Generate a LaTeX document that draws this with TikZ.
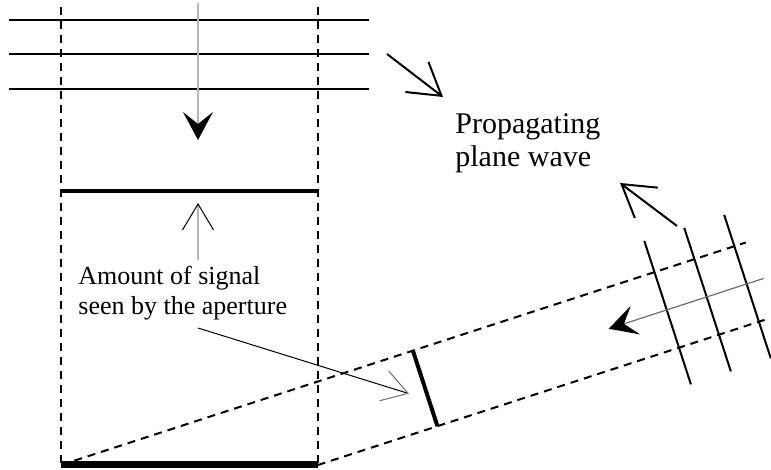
\documentclass[tikz,border=0pt]{standalone}
\usepackage{fontspec}
\setmainfont{Liberation Serif}
\usepackage{tikz}
\usetikzlibrary{calc,arrows.meta}
\definecolor{shaftgray}{HTML}{B4B4B4}
\definecolor{midgray}{HTML}{6E6E6E}
\tikzset{
  wave/.style={line width=1bp,black},
  edge/.style={line width=1bp,dash pattern=on 4bp off 3bp},
  aper/.style={line width=2bp},
  bigar/.style={-{Straight Barb[length=15.5bp,width=19bp]},line width=1bp},
  dnar/.style={-{Stealth[length=14bp,width=15bp,inset=6bp,black]},shaftgray,line width=0.6bp},
  upar/.style={-{Straight Barb[length=13bp,width=15.5bp,black,line width=0.5bp]},shaftgray,line width=0.6bp},
  ptr/.style={-{Straight Barb[length=12.5bp,width=15.5bp,midgray,line width=0.5bp]},line width=0.5bp},
  lbl/.style={align=left,inner sep=0pt,anchor=base west}
}
\begin{document}
\begin{tikzpicture}[x=0.5bp,y=0.5bp]
\useasboundingbox (0,0) rectangle (771,470);
% vertical beam
\coordinate (bl) at (61,5); \coordinate (br) at (318,5);
\draw[edge] (61,463) -- (bl);
\draw[edge] (318,463) -- (br);
\foreach \y in {450,416,381} \draw[wave] (9,\y) -- (369,\y);
\draw[dnar] (198,467) -- (198,330);
\draw[aper] (61,279) -- (318,279);
\draw[line width=3.5bp] (bl) -- (br);
% labels (anchored on the last line)
\node[lbl,font=\fontsize{15bp}{16.5bp}\selectfont] (prop) at (455,303) {Propagating\\plane wave};
\node[lbl,font=\fontsize{13bp}{15bp}\selectfont] (amount) at (78,155) {Amount of signal\\seen by the aperture};
\coordinate (a1s) at (387,416); \coordinate (a1e) at (443,373);
\coordinate (a2s) at (677,244); \coordinate (a2e) at (620,287);
\draw[bigar] (a1s) -- (a1e);
\draw[bigar] (a2s) -- (a2e);
\coordinate (upx) at (198,267);
\draw[upar] ($(amount.north -| upx)+(0,6)$) -- (upx);
% tilted beam
\begin{scope}[shift={(bl)},rotate=18]
\draw[edge] (0,0) -- (720,0);
\draw[edge] (244,-79.4) -- (720,-79.4);
\draw[aper] (370,0) -- (370,-79.4);
\foreach \u in {624,666,708} \draw[wave] (\u,33) -- (\u,-118);
\coordinate (tip) at (563,-39.7);
\draw[dnar,midgray] (726,-39.7) -- (tip);
\coordinate (seen) at (353,-39.7);
\end{scope}
\draw[ptr] ($(amount.south -| upx)+(0,-7)$) -- (seen);
\end{tikzpicture}
\end{document}
